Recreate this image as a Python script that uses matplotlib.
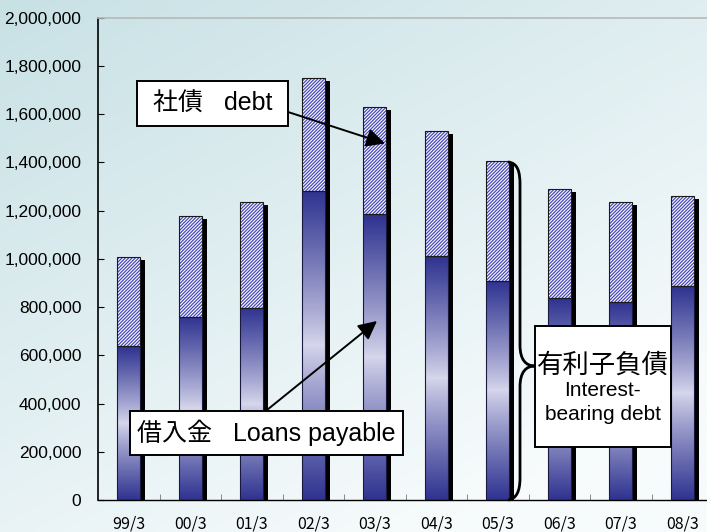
import numpy as np
import matplotlib.pyplot as plt
from matplotlib.colors import LinearSegmentedColormap, to_rgb
from matplotlib.patches import Rectangle, PathPatch
from matplotlib.path import Path
from matplotlib.ticker import FuncFormatter

# data (yen, thousands)
periods = ['99/3', '00/3', '01/3', '02/3', '03/3', '04/3', '05/3', '06/3', '07/3', '08/3']
loans = [638000, 760000, 797000, 1282000, 1185000, 1011000, 909000, 836000, 819000, 887000]
bonds = [369000, 417000, 437000, 467000, 445000, 518000, 497000, 453000, 415000, 374000]
yticks = [0, 200000, 400000, 600000, 800000, 1000000, 1200000, 1400000, 1600000, 1800000, 2000000]

W, H = 707, 532
fig = plt.figure(figsize=(W / 100, H / 100), dpi=100)

def fx(px):
    return px / W

def fy(py):
    return 1 - py / H

# background gradient
bg = fig.add_axes([0, 0, 1, 1], zorder=-1)
gx, gy = np.meshgrid(np.linspace(0, 1, 200), np.linspace(0, 1, 200))
t = np.clip(gx * 0.5 + gy * 0.7, 0, 1)
c0 = np.array(to_rgb('#c8e1e5'))
c1 = np.array(to_rgb('#f7fbfc'))
img = c0[None, None, :] * (1 - t[..., None]) + c1[None, None, :] * t[..., None]
bg.imshow(img, extent=[0, 1, 0, 1], aspect='auto', origin='upper')
bg.axis('off')

ax = fig.add_axes([fx(98), fy(500), fx(713) - fx(98), fy(17.7) - fy(500)])
ax.patch.set_alpha(0)

x = np.arange(len(periods))
loans = np.array(loans)
bonds = np.array(bonds)
total = loans + bonds
w = 0.375

# shadow
ax.bar(x + 0.08, total - 12000, width=w, color='black', zorder=1)

# gradient loans bars
cmap = LinearSegmentedColormap.from_list('g', ['#d6d6ec', '#2f3390'])
s = np.linspace(0, 1, 256)
prof = (np.abs(2 * s - 1) ** 0.9)[:, None]
for xi, lv in zip(x, loans):
    ax.imshow(prof, extent=[xi - w / 2, xi + w / 2, 0, lv], aspect='auto',
              cmap=cmap, vmin=0, vmax=1, origin='lower', zorder=2)

plt.rcParams['hatch.linewidth'] = 0.9
ax.bar(x, bonds, bottom=loans, width=w, color='white', edgecolor='#4848bc',
       hatch='//////////', linewidth=0, zorder=2)
ax.bar(x, loans, width=w, fill=False, edgecolor='#1a1a40', linewidth=0.8, zorder=3)
ax.bar(x, bonds, bottom=loans, width=w, fill=False, edgecolor='#1a1a1a', linewidth=0.8, zorder=3)

ax.set_xlim(-0.5, 9.5)
ax.set_ylim(0, 2000000)
ax.set_yticks(yticks)
ax.yaxis.set_major_formatter(FuncFormatter(lambda v, p: f'{v:,.0f}'))
ax.set_xticks(x)
ax.set_xticklabels(periods, family=['Noto Sans CJK JP'], fontsize=11.5)
ax.set_xticks(x[:-1] + 0.5, minor=True)
ax.tick_params(axis='x', which='major', length=0, pad=11)
ax.tick_params(axis='x', which='minor', direction='in', length=4, color='#777777')
ax.tick_params(axis='y', direction='in', length=4, pad=12)
for lab in ax.get_yticklabels():
    lab.set_family('Liberation Sans')
    lab.set_fontsize(12.5)

ax.spines['right'].set_visible(False)
ax.spines['top'].set_color('#b8b8b8')
ax.spines['top'].set_linewidth(1.2)
ax.spines['left'].set_linewidth(1.2)
ax.spines['bottom'].set_linewidth(1.0)

fam = ['Liberation Sans', 'Noto Sans CJK JP']

def box(x0, y0, x1, y1):
    fig.add_artist(Rectangle((fx(x0), fy(y1)), fx(x1) - fx(x0), fy(y0) - fy(y1),
                             transform=fig.transFigure, facecolor='white',
                             edgecolor='black', linewidth=1.4, zorder=4))

def arrow(x0, y0, x1, y1):
    fig.add_artist(plt.Annotation('', xy=(x1, H - y1), xytext=(x0, H - y0),
                                  xycoords='figure pixels', textcoords='figure pixels',
                                  arrowprops=dict(arrowstyle='-|>,head_length=0.8,head_width=0.4',
                                                  mutation_scale=14, lw=1.4, color='black',
                                                  shrinkA=0, shrinkB=0), zorder=3))

arrow(288, 112, 385, 143.5)
arrow(267, 410, 377, 321)

box(137.3, 80.7, 288.3, 126)
fig.text(fx(212.8), fy(103.3), '社債   debt', family=fam, fontsize=18,
         ha='center', va='center', zorder=5)
box(130, 410.7, 402.7, 455)
fig.text(fx(266.4), fy(433), '借入金   Loans payable', family=fam, fontsize=18,
         ha='center', va='center', zorder=5)
box(535, 325.7, 670.7, 446.7)
fig.text(fx(602.8), fy(365), '有利子負債', family=fam, fontsize=19,
         ha='center', va='center', zorder=5)
fig.text(fx(602.8), fy(391), 'Interest-', family=fam, fontsize=15,
         ha='center', va='center', zorder=5)
fig.text(fx(602.8), fy(415), 'bearing debt', family=fam, fontsize=15,
         ha='center', va='center', zorder=5)

# brace
pts = [(508, 162), (518, 163), (520, 172), (520, 185),
       (520, 345),
       (520, 360), (526, 366), (535, 366),
       (526, 366), (520, 372), (520, 387),
       (520, 478),
       (520, 492), (516, 499), (508, 500)]
codes = [Path.MOVETO, Path.CURVE4, Path.CURVE4, Path.CURVE4,
         Path.LINETO,
         Path.CURVE4, Path.CURVE4, Path.CURVE4,
         Path.CURVE4, Path.CURVE4, Path.CURVE4,
         Path.LINETO,
         Path.CURVE4, Path.CURVE4, Path.CURVE4]
brace = Path([(fx(a), fy(b)) for a, b in pts], codes)
fig.add_artist(PathPatch(brace, transform=fig.transFigure, fill=False,
                         edgecolor='black', linewidth=2, zorder=3))

fig.savefig('out.png', dpi=100)
